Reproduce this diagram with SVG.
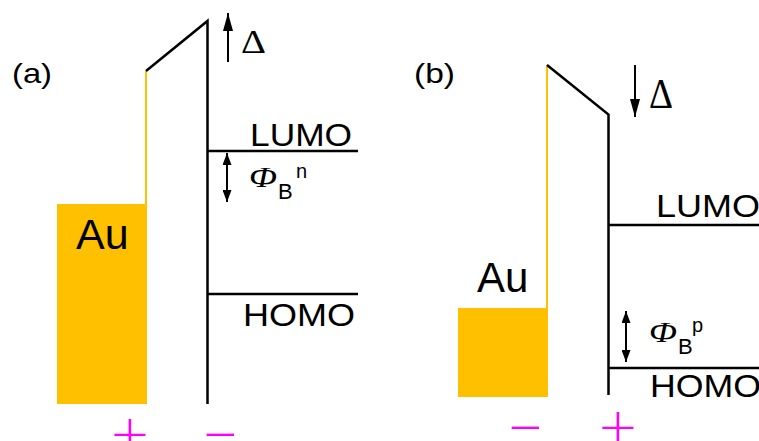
<svg xmlns="http://www.w3.org/2000/svg" width="759" height="441" viewBox="0 0 759 441">
<style>
.bk{stroke:#000;stroke-width:2.5;fill:none}
.yl{stroke:#FFC000;stroke-width:2;fill:none}
.au{fill:#FFC000}
.t{font-family:"Liberation Sans",Arial,sans-serif;fill:#000}
.s{font-family:"Liberation Serif","Times New Roman",serif;fill:#000}
.sg{font-family:Lato,"Liberation Sans",Arial,sans-serif;font-weight:300;fill:#FF00FF;font-size:66px;text-anchor:middle}
.ar{stroke:#000;stroke-width:2;fill:none}
</style>
<defs>
<marker id="hb" markerUnits="userSpaceOnUse" markerWidth="18" markerHeight="10" refX="18" refY="5" orient="auto"><path d="M0,0 L18,5 L0,10 z" fill="#000"/></marker>
<marker id="hs" markerUnits="userSpaceOnUse" markerWidth="12" markerHeight="9" refX="12" refY="4.5" orient="auto-start-reverse"><path d="M0,0 L12,4.5 L0,9 z" fill="#000"/></marker>
</defs>
<rect width="759" height="441" fill="#fff"/>

<g id="panel-a">
<text class="t" x="12" y="83" font-size="28" textLength="40" lengthAdjust="spacingAndGlyphs">(a)</text>
<g id="au-a">
<rect class="au" x="57" y="204" width="90" height="200"/>
<line class="yl" x1="146" y1="71" x2="146" y2="205"/>
<text class="t" x="76" y="249" font-size="43">Au</text>
</g>
<g id="barrier-a">
<polyline class="bk" points="146,71 207.5,21 207.5,404"/>
</g>
<g id="lumo-a">
<line class="bk" x1="207" y1="151" x2="358" y2="151"/>
<text class="t" x="250" y="146" font-size="32" textLength="102" lengthAdjust="spacingAndGlyphs">LUMO</text>
</g>
<g id="homo-a">
<line class="bk" x1="207" y1="294" x2="358" y2="294"/>
<text class="t" x="243" y="326" font-size="32" textLength="112" lengthAdjust="spacingAndGlyphs">HOMO</text>
</g>
<g id="phi-a">
<text class="s" x="249" y="187" font-size="29" font-style="italic" textLength="28" lengthAdjust="spacingAndGlyphs">Φ</text>
<text class="t" x="278" y="199" font-size="22">B</text>
<text class="t" x="296" y="178" font-size="20">n</text>
</g>
<g id="delta-a">
<text class="s" x="241" y="53" font-size="34" textLength="25" lengthAdjust="spacingAndGlyphs">Δ</text>
</g>
<g id="signs-a">
<text class="sg" x="130" y="457">+</text>
<text class="sg" x="220.5" y="457">−</text>
</g>
</g>

<g id="panel-b">
<text class="t" x="414" y="83" font-size="28" textLength="41" lengthAdjust="spacingAndGlyphs">(b)</text>
<g id="au-b">
<rect class="au" x="458" y="308" width="90" height="89"/>
<line class="yl" x1="547" y1="65" x2="547" y2="309"/>
<text class="t" x="477" y="292" font-size="42">Au</text>
</g>
<g id="barrier-b">
<polyline class="bk" points="547,65 608.5,114.5 608.5,395"/>
</g>
<g id="lumo-b">
<line class="bk" x1="608" y1="225" x2="759" y2="225"/>
<text class="t" x="656" y="217" font-size="32" textLength="104" lengthAdjust="spacingAndGlyphs">LUMO</text>
</g>
<g id="homo-b">
<line class="bk" x1="608" y1="368" x2="759" y2="368"/>
<text class="t" x="650" y="397" font-size="32" textLength="111" lengthAdjust="spacingAndGlyphs">HOMO</text>
</g>
<g id="phi-b">
<text class="s" x="649" y="342" font-size="29" font-style="italic" textLength="28" lengthAdjust="spacingAndGlyphs">Φ</text>
<text class="t" x="678" y="354" font-size="22">B</text>
<text class="t" x="692" y="332" font-size="20">p</text>
</g>
<g id="delta-b">
<text class="s" x="649" y="108" font-size="43" textLength="24" lengthAdjust="spacingAndGlyphs">Δ</text>
</g>
<g id="signs-b">
<text class="sg" x="525.5" y="450">−</text>
<text class="sg" x="618" y="450">+</text>
</g>
</g>

<g id="connectors">
<line class="ar" x1="228" y1="62" x2="228" y2="13" marker-end="url(#hb)"/>
<line class="ar" x1="635" y1="65" x2="635" y2="117" marker-end="url(#hb)"/>
<line class="ar" x1="227" y1="153" x2="227" y2="202" marker-start="url(#hs)" marker-end="url(#hs)"/>
<line class="ar" x1="626" y1="311" x2="626" y2="362" marker-start="url(#hs)" marker-end="url(#hs)"/>
</g>
</svg>
